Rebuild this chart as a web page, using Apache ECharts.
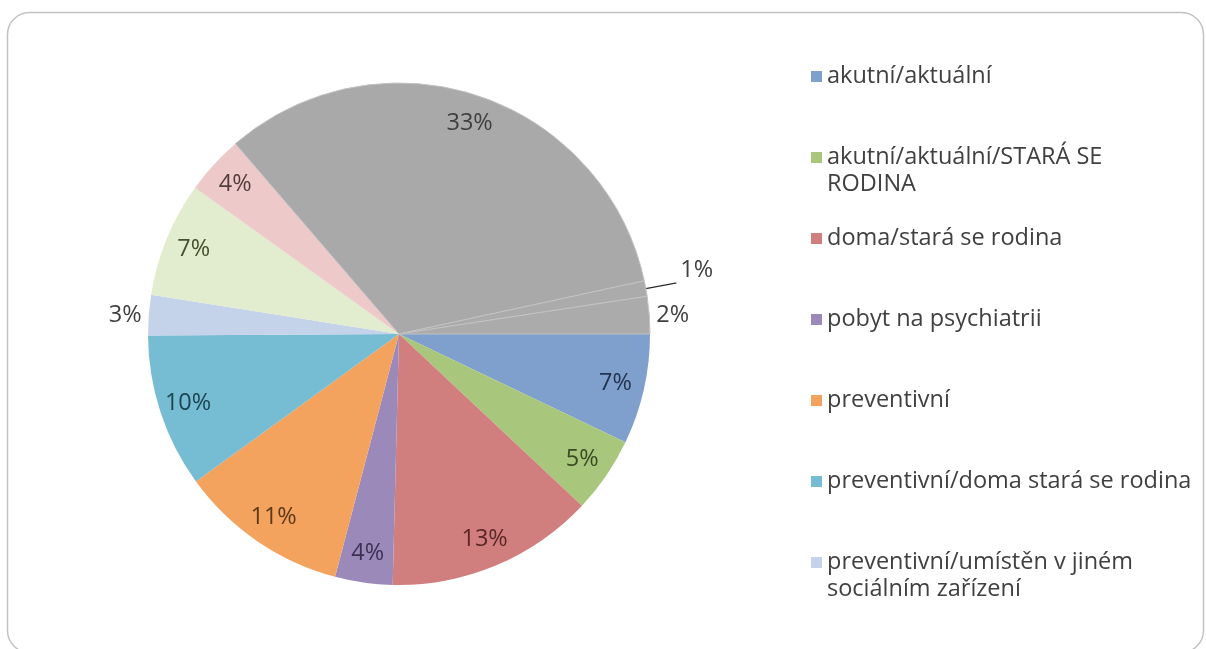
<!DOCTYPE html>
<html>
<head>
<meta charset="utf-8">
<script src="https://cdn.jsdelivr.net/npm/echarts@6/dist/echarts.min.js"></script>
<style>
html,body{margin:0;padding:0;background:#fff;}
#c{width:1206px;height:649px;}
</style>
</head>
<body>
<div id="c"></div>
<script>
// ---- data ----
const categories = [
  "akutní/aktuální",
  "akutní/aktuální/STARÁ SE RODINA",
  "doma/stará se rodina",
  "pobyt na psychiatrii",
  "preventivní",
  "preventivní/doma stará se rodina",
  "preventivní/umístěn v jiném sociálním zařízení",
  "kategorie 8",
  "kategorie 9",
  "kategorie 10",
  "kategorie 11",
  "kategorie 12"
];
const values = [7.1, 4.9, 13.4, 3.7, 10.9, 9.9, 2.6, 7.4, 3.8, 32.9, 1.0, 2.4];
const legendNames = categories.slice(0, 7);
const legendText = {
  "akutní/aktuální/STARÁ SE RODINA": "\nakutní/aktuální/STARÁ SE\nRODINA",
  "preventivní/umístěn v jiném sociálním zařízení": "\npreventivní/umístěn v jiném\nsociálním zařízení"
};
const outsideIdx = [6, 10, 11];

// ---- styles ----
const colors = ['#7F9FCC', '#A8C67C', '#D17F7E', '#9B8AB9', '#F4A35E', '#76BCD2',
                '#C5D3EA', '#E2ECCF', '#EEC9C9', '#A9A9A9', '#ABABAB', '#ABABAB'];
const labelColors = ['#223350', '#3b4a22', '#5b2626', '#3a3152', '#5a3819', '#1c4552',
                     '#404040', '#45502e', '#553c3c', '#404040', '#404040', '#404040'];
const FONT = '"Open Sans", "Noto Sans", sans-serif';
const CENTER = [399, 334];
const R = 251;
const fmt = p => Math.round(p.percent) + '%';

const mainData = values.map((v, i) => {
  const item = {
    value: v,
    name: categories[i],
    itemStyle: {
      color: colors[i],
      borderWidth: i >= 9 ? 1 : 0,
      borderColor: '#c2c2c2'
    },
    label: { show: false },
    labelLine: { show: false }
  };
  if (i === 6 || i === 11) {
    item.label = { show: true, position: 'outside', distanceToLabelLine: 3 };
    item.labelLine = { show: false, length: 2, length2: 2 };
  }
  if (i === 10) {
    item.label = {
      show: true, position: 'outside', distanceToLabelLine: 4,
      lineHeight: 26,
      formatter: p => Math.round(p.percent) + '%\n'
    };
    item.labelLine = { show: true, length: 30, length2: 1, lineStyle: { color: '#2a2a2a', width: 1.3 } };
  }
  return item;
});

const labelData = values.map((v, i) => ({
  value: v,
  name: categories[i],
  label: outsideIdx.includes(i) ? { show: false } : { show: true, color: labelColors[i] }
}));

const legendData = legendNames.map(n => legendText[n]
  ? { name: n, textStyle: { padding: 0 } }
  : n);

const chart = echarts.init(document.getElementById('c'), null, { renderer: 'canvas' });
chart.setOption({
  backgroundColor: '#fff',
  animation: false,
  graphic: [{
    type: 'rect',
    shape: { x: 7.5, y: 12.5, width: 1196, height: 640, r: 22 },
    style: { fill: 'none', stroke: '#c2c2c2', lineWidth: 1.5 },
    silent: true
  }],
  legend: {
    orient: 'vertical',
    left: 811,
    top: 36,
    padding: 0,
    itemGap: 0,
    itemWidth: 11,
    itemHeight: 11,
    icon: 'rect',
    selectedMode: false,
    data: legendData,
    formatter: n => legendText[n] || n,
    textStyle: {
      fontFamily: FONT,
      fontSize: 23.5,
      color: '#404040',
      lineHeight: 27,
      padding: [27, 0, 27, 0]
    }
  },
  series: [
    {
      type: 'pie',
      center: CENTER,
      radius: [0, R],
      startAngle: 0,
      clockwise: true,
      avoidLabelOverlap: false,
      labelLayout: { hideOverlap: false },
      silent: true,
      emphasis: { disabled: true },
      label: {
        formatter: fmt,
        fontFamily: FONT,
        fontSize: 23.5,
        color: '#404040',
        textBorderWidth: 0
      },
      data: mainData
    },
    {
      type: 'pie',
      center: CENTER,
      radius: [0, 2 * 219],
      startAngle: 0,
      clockwise: true,
      avoidLabelOverlap: false,
      labelLayout: { hideOverlap: false },
      silent: true,
      legendHoverLink: false,
      emphasis: { disabled: true },
      itemStyle: { color: 'rgba(0,0,0,0)', borderWidth: 0 },
      label: {
        position: 'inside',
        rotate: 0,
        formatter: fmt,
        fontFamily: FONT,
        fontSize: 23.5,
        textBorderWidth: 0
      },
      labelLine: { show: false },
      data: labelData
    }
  ]
});
</script>
</body>
</html>
